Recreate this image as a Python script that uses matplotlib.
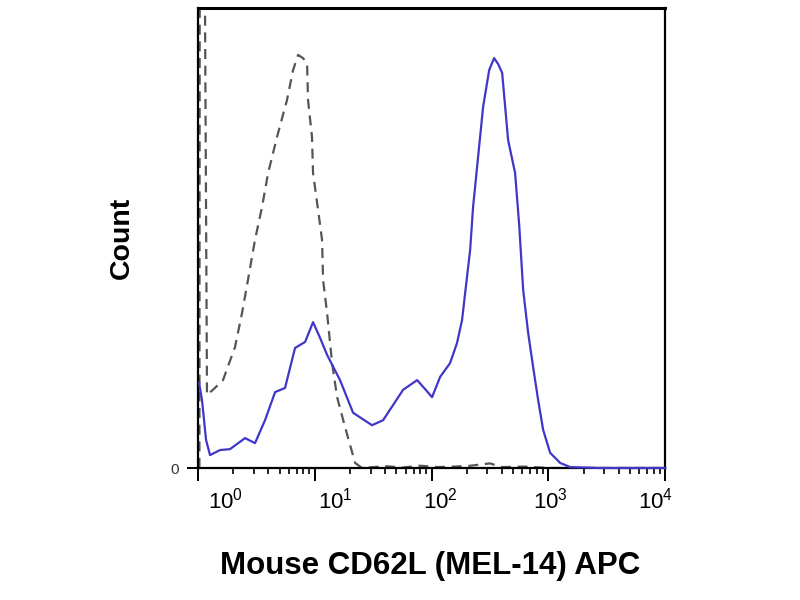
import numpy as np
import matplotlib.pyplot as plt

plt.rcParams['font.family'] = ['Liberation Sans', 'DejaVu Sans']
plt.rcParams['mathtext.fontset'] = 'custom'
plt.rcParams['mathtext.rm'] = 'Liberation Sans'

# CD62L stained cells (solid blue), x given as log10 of APC intensity
stain_log = [0.009, 0.034, 0.069, 0.103, 0.188, 0.274, 0.403, 0.488, 0.574, 0.660,
             0.745, 0.831, 0.917, 0.985, 1.045, 1.105, 1.216, 1.328, 1.490, 1.585,
             1.756, 1.876, 1.936, 2.004, 2.073, 2.158, 2.218, 2.261, 2.287, 2.330,
             2.355, 2.398, 2.441, 2.493, 2.535, 2.570, 2.604, 2.655, 2.715, 2.750,
             2.784, 2.827, 2.869, 2.912, 2.955, 3.015, 3.101, 3.186, 3.443, 4.0]
stain_count = [18.5, 14.8, 6.1, 2.8, 3.9, 4.1, 6.5, 5.4, 10.4, 16.5,
               17.4, 26.1, 27.4, 31.7, 28.3, 24.6, 19.1, 12.0, 9.3, 10.4,
               17.0, 19.1, 17.4, 15.4, 19.8, 22.8, 27.2, 32.2, 38.0, 47.4,
               56.7, 67.6, 78.5, 86.5, 89.1, 87.8, 85.9, 71.3, 64.1, 52.8,
               38.7, 29.3, 22.0, 14.8, 8.3, 3.3, 1.1, 0.2, 0.0, 0.0]

# isotype control (dashed grey), first bin runs off the top
iso_log = [0.012, 0.016, 0.05, 0.077, 0.128, 0.214, 0.317, 0.377, 0.428, 0.488,
           0.548, 0.600, 0.677, 0.762, 0.814, 0.857, 0.899, 0.934, 0.942, 0.976,
           0.985, 1.028, 1.062, 1.071, 1.105, 1.148, 1.191, 1.259, 1.345, 1.405,
           1.6, 1.75, 1.9, 2.05, 2.3, 2.5, 2.6, 2.8, 3.0, 4.0]
iso_count = [0.0, 150.0, 150.0, 15.9, 17.0, 19.1, 26.3, 33.7, 40.9, 49.6,
             56.7, 64.1, 72.0, 80.0, 86.5, 89.8, 89.1, 88.0, 80.0, 72.0,
             64.1, 56.1, 49.6, 40.9, 33.7, 22.8, 15.4, 8.9, 1.1, 0.0,
             0.4, 0.1, 0.5, 0.2, 0.4, 1.0, 0.2, 0.3, 0.0, 0.0]

decade_labels = ['$10^{0}$', '$10^{1}$', '$10^{2}$', '$10^{3}$', '$10^{4}$']
label_spots = [0.058, 0.293, 0.518, 0.754, 0.979]

fig = plt.figure(figsize=(8, 6), dpi=100)
ax = fig.add_axes([0.2475, 0.22, 0.584, 0.7667])

iso_line, = ax.plot(10 ** np.array(iso_log), iso_count, color='#555555', lw=1.6)
iso_line.set_dashes([4.5, 3])
ax.plot(10 ** np.array(stain_log), stain_count, color='#4036c8', lw=1.6,
        zorder=3, clip_on=False)

ax.set_xscale('log')
ax.set_xlim(1, 1e4)
ax.set_ylim(0, 100)

for s in ax.spines.values():
    s.set_linewidth(1.6)
ax.spines['top'].set_linewidth(2.2)

ax.tick_params(axis='x', which='major', direction='out', length=9, width=1.4,
               labelbottom=False)
ax.tick_params(axis='x', which='minor', direction='out', length=4.5, width=1.2)
ax.set_yticks([0])
ax.set_yticklabels(['0'], fontsize=11, color='#333333')
ax.tick_params(axis='y', direction='out', length=8, width=1.4, pad=6)

for lab, xs in zip(decade_labels, label_spots):
    ax.text(xs, -0.042, lab, transform=ax.transAxes, ha='center', va='top',
            fontsize=16)

ax.set_xlabel('Mouse CD62L (MEL-14) APC', fontsize=22.5, fontweight='bold')
ax.xaxis.set_label_coords(0.497, -0.18)
ax.set_ylabel('Count', fontsize=20.5, fontweight='bold')
ax.yaxis.set_label_coords(-0.135, 0.5)

fig.savefig('out.png', dpi=100)
